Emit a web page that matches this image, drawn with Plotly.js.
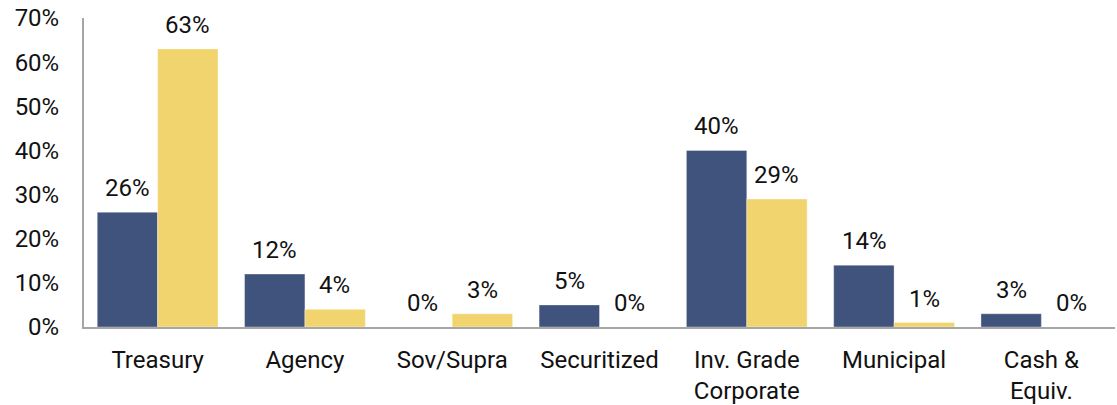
<!DOCTYPE html>
<html><head><meta charset="utf-8">
<script src="https://cdn.plot.ly/plotly-3.0.1.min.js"></script>
<style>html,body{margin:0;padding:0;background:#fff}#chart{width:1117px;height:405px}</style>
</head><body><div id="chart"></div>
<script>
const categories = ["Treasury","Agency","Sov/Supra","Securitized","Inv. Grade<br>Corporate","Municipal","Cash &<br>Equiv."];
const seriesBlue = [26,12,0,5,40,14,3];
const seriesYellow = [63,4,3,0,29,1,0];
const yTickVals = [0,10,20,30,40,50,60,70];
const yTickText = ["0%","10%","20%","30%","40%","50%","60%","70%"];

const font = {family:"Roboto, 'DejaVu Sans', sans-serif", size:24, color:"#111"};
function trace(vals, color){
  return {type:"bar", x:categories, y:vals,
    marker:{color:color, line:{color:"rgba(255,255,255,0.35)", width:1}},
    hoverinfo:"none"};
}
const annotations = [];
function addLabels(vals, xshift){
  vals.forEach((v,i)=>annotations.push({xref:"x", yref:"y", x:categories[i], y:v, text:v+"%",
    showarrow:false, xanchor:"center", yanchor:"bottom", xshift:xshift, yshift:8, font:font}));
}
addLabels(seriesBlue,-30);
addLabels(seriesYellow,30);
Plotly.newPlot("chart",[trace(seriesBlue,"#3F537C"),trace(seriesYellow,"#F2D46E")],{
  width:1117,height:405,
  margin:{l:84,r:2,t:18,b:78},
  barmode:"group", bargap:0.18, bargroupgap:0,
  showlegend:false,
  paper_bgcolor:"#fff", plot_bgcolor:"#fff",
  font:font,
  annotations:annotations,
  xaxis:{showline:true, linecolor:"#A6A6A6", linewidth:2, ticks:"", tickfont:font, showgrid:false, zeroline:false, ticklabelstandoff:10},
  yaxis:{range:[0,70], tickvals:yTickVals, ticktext:yTickText, showline:true, linecolor:"#A6A6A6", linewidth:2, showgrid:false, zeroline:false, ticks:"", tickfont:font, ticklabelstandoff:18}
},{displayModeBar:false,staticPlot:true});
</script></body></html>
